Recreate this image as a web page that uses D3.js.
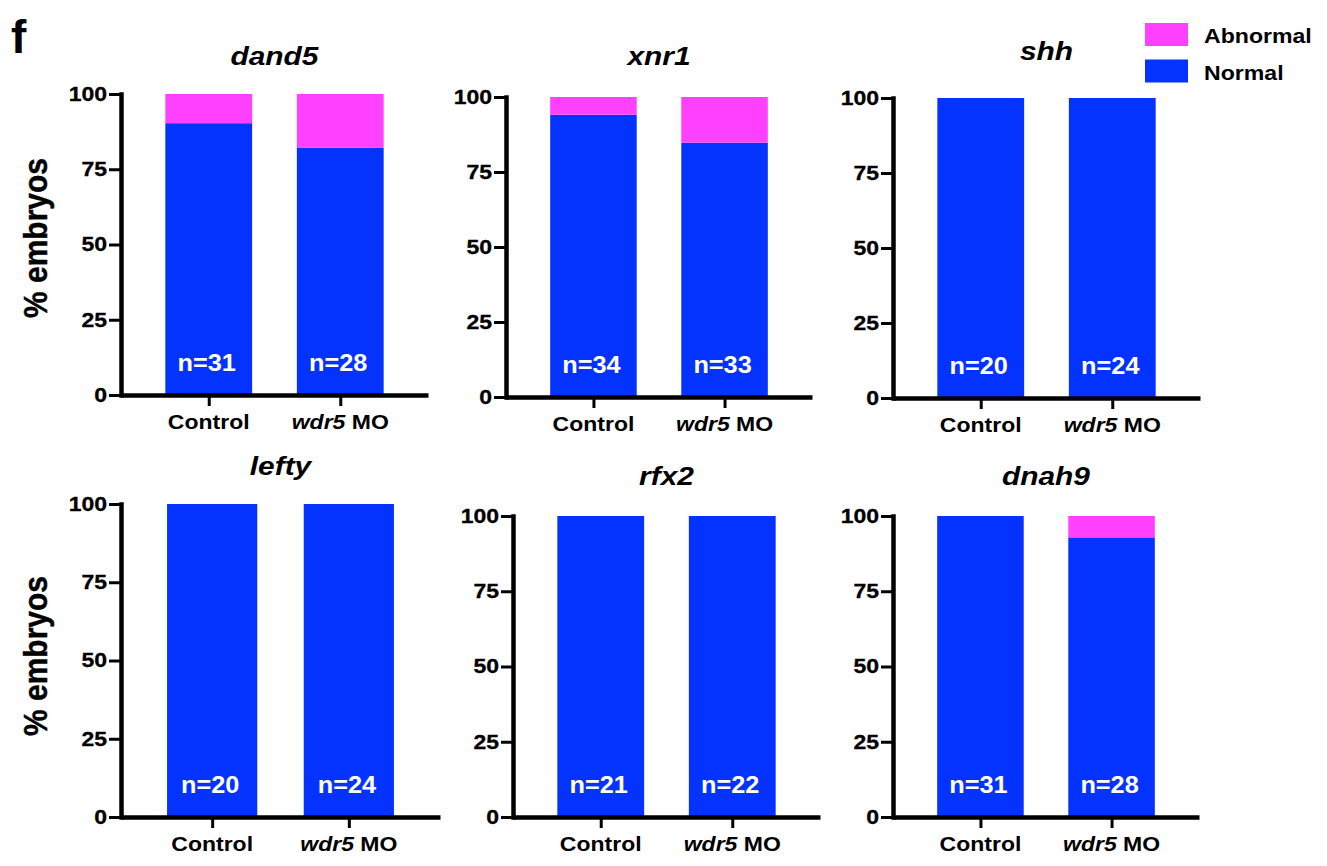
<!DOCTYPE html>
<html>
<head>
<meta charset="utf-8">
<script src="https://cdn.jsdelivr.net/npm/d3@7"></script>
<style>
    body { margin: 0; background: #fff; }
    svg { display: block; }
    text { font-family: "Liberation Sans", Arial, Helvetica, sans-serif; font-weight: bold; fill: #000; }
</style>
</head>
<body>
<svg id="chart" width="1327" height="866"></svg>
<script>
// Data
const genes = ["dand5", "xnr1", "shh", "lefty", "rfx2", "dnah9"];
const groups = ["Control", "wdr5 MO"];
const normalPct = [
    [90.3, 82.1],
    [94.1, 84.8],
    [100, 100],
    [100, 100],
    [100, 100],
    [100, 92.9]
];
const nCounts = [
    [31, 28],
    [34, 33],
    [20, 24],
    [20, 24],
    [21, 22],
    [31, 28]
];
const yTicks = [0, 25, 50, 75, 100];
const legendKeys = ["abnormal", "normal"];
const legendLabels = ["Abnormal", "Normal"];
const italicWords = ["wdr5"];

// Panel frames (pixels)
const panels = [
    {left: 121, right: 428, top: 94,  bottom: 395, titleY: 65},
    {left: 506, right: 812, top: 97,  bottom: 397, titleY: 65},
    {left: 893, right: 1200, top: 98, bottom: 398, titleY: 60},
    {left: 121, right: 440, top: 504, bottom: 817, titleY: 475},
    {left: 513, right: 820, top: 516, bottom: 817, titleY: 485},
    {left: 893, right: 1199, top: 516, bottom: 817, titleY: 485}
];

const SX = 1.15; // the source figure is a bit wider than tall
const svg = d3.select("#chart");
const color = d3.scaleOrdinal()
    .domain(["normal", "abnormal"])
    .range(["#0433FF", "#FF40FF"]);

const stretched = (sel, x, y, sx) =>
    sel.attr("transform", `translate(${x},${y}) scale(${sx},1)`);

genes.forEach((gene, i) => {
    const p = panels[i];
    const g = svg.append("g").attr("class", "panel");

    const x = d3.scalePoint().domain(groups).range([p.left, p.right]).padding(0.667);
    const y = d3.scaleLinear().domain([0, 100]).range([p.bottom, p.top]);
    const barW = x.step() * 0.66;

    const rows = groups.map((grp, j) => ({
        group: grp,
        normal: normalPct[i][j],
        abnormal: 100 - normalPct[i][j],
        n: nCounts[i][j]
    }));
    const series = d3.stack().keys(["normal", "abnormal"])(rows);

    // Bars
    g.append("g")
        .selectAll("g")
        .data(series)
        .join("g")
        .attr("fill", d => color(d.key))
        .selectAll("rect")
        .data(d => d.filter(s => s[1] > s[0]))
        .join("rect")
        .attr("x", d => x(d.data.group) - barW / 2)
        .attr("width", barW)
        .attr("y", d => y(d[1]))
        .attr("height", d => y(d[0]) - y(d[1]));

    // n labels
    g.append("g")
        .selectAll("text")
        .data(rows)
        .join("text")
        .attr("text-anchor", "middle")
        .style("font-size", "23px")
        .style("fill", "#fff")
        .each(function(d) { stretched(d3.select(this), x(d.group) - 2, y(0) - 24, 1.1); })
        .text(d => `n=${d.n}`);

    // Y axis
    const yAxis = g.append("g")
        .attr("transform", `translate(${p.left},0)`)
        .call(d3.axisLeft(y).tickValues(yTicks).tickSize(12).tickPadding(2).tickSizeOuter(0));
    yAxis.select(".domain").attr("stroke-width", 4.5).attr("stroke-linecap", "square");
    yAxis.selectAll(".tick line").attr("stroke-width", 3);
    yAxis.selectAll(".tick text")
        .attr("x", -14 / SX)
        .attr("transform", `scale(${SX},1)`)
        .style("font-size", "20px")
        .style("stroke", "#000")
        .style("stroke-width", 0.3);

    // X axis
    const xAxis = g.append("g")
        .attr("transform", `translate(0,${p.bottom})`)
        .call(d3.axisBottom(x).tickSize(11).tickSizeOuter(0).tickFormat(""));
    xAxis.select(".domain").attr("stroke-width", 4.5);
    xAxis.selectAll(".tick line").attr("stroke-width", 3);

    // Category labels
    g.append("g")
        .selectAll("text")
        .data(groups)
        .join("text")
        .attr("text-anchor", "middle")
        .style("font-size", "20px")
        .each(function(grp) {
            const t = d3.select(this);
            stretched(t, x(grp), p.bottom + 34, SX);
            grp.split(" ").forEach((w, k) => {
                t.append("tspan")
                    .style("font-style", italicWords.includes(w) ? "italic" : "normal")
                    .text((k > 0 ? " " : "") + w);
            });
        });

    // Title
    stretched(g.append("text"), (p.left + p.right) / 2, p.titleY, SX)
        .attr("text-anchor", "middle")
        .style("font-size", "26px")
        .style("font-style", "italic")
        .text(gene);
});

// Y axis titles, one per row
[238, 656].forEach(cy => {
    svg.append("text")
        .attr("transform", `translate(47,${cy}) rotate(-90) scale(1,1.1)`)
        .attr("text-anchor", "middle")
        .style("font-size", "30px")
        .style("stroke", "#000")
        .style("stroke-width", 0.4)
        .text("% embryos");
});

// Panel letter
svg.append("text")
    .attr("x", 11)
    .attr("y", 53)
    .style("font-size", "46px")
    .text("f");

// Legend
const legend = svg.append("g").attr("transform", "translate(1145,23)");
const lg = legend.selectAll("g")
    .data(legendKeys)
    .join("g")
    .attr("transform", (d, k) => `translate(0,${k * 36.5})`);
lg.append("rect")
    .attr("width", 43)
    .attr("height", 23)
    .attr("fill", d => color(d));
lg.append("text")
    .each(function(d, k) { stretched(d3.select(this), 59, 20, 1.1); })
    .style("font-size", "21px")
    .text((d, k) => legendLabels[k]);
</script>
</body>
</html>
